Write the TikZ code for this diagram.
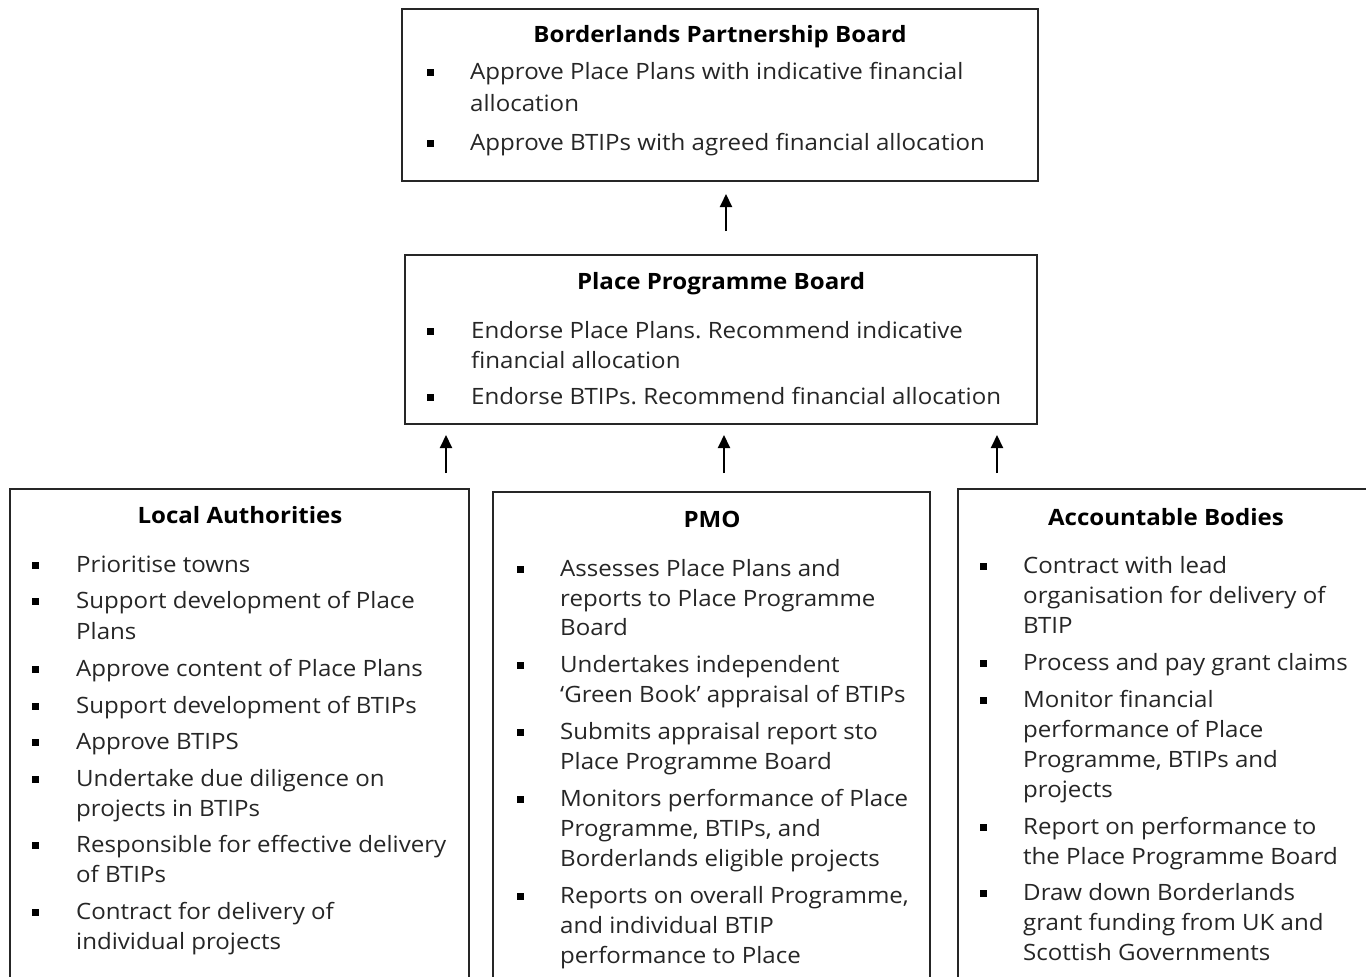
\documentclass[tikz,border=0pt]{standalone}
\usepackage{fontspec}
\setmainfont[FakeStretch=1.07]{Open Sans}
\usetikzlibrary{arrows.meta}
\frenchspacing
\begin{document}
\begin{tikzpicture}[x=1pt,y=-1pt,
  box/.style={draw=black!85, line width=2pt, inner sep=0pt, rectangle},
  ttl/.style={font=\fontsize{22.5}{26}\selectfont\bfseries, text=black, anchor=base, inner sep=0pt},
  ln/.style={font=\fontsize{22.5}{26}\selectfont, text=black!85, anchor=base west, inner sep=0pt},
  bul/.style={fill=black, minimum size=7pt, inner sep=0pt, rectangle},
  arr/.style={line width=2pt, -{Triangle[width=12pt,length=13pt]}}]
\path[use as bounding box] (0,0) rectangle (1366,977);
\clip (0,0) rectangle (1366,977);
\fill[white] (0,0) rectangle (1366,977);

% boxes
\node[box, minimum width=636pt, minimum height=172pt] (bpb) at (720,95) {};
\node[box, minimum width=632pt, minimum height=169pt] (ppb) at (721,339.5) {};
\node[box, minimum width=459pt, minimum height=521pt] (la) at (239.5,749.5) {};
\node[box, minimum width=437pt, minimum height=518pt] (pmo) at (711.5,751) {};
\node[box, minimum width=442pt, minimum height=521pt] (ab) at (1179,749.5) {};

% titles
\node[ttl] (bpb-t) at (720,42) {Borderlands Partnership Board};
\node[ttl] (ppb-t) at (721,289) {Place Programme Board};
\node[ttl] (la-t) at (240,523) {Local Authorities};
\node[ttl] (pmo-t) at (712,527) {PMO};
\node[ttl] (ab-t) at (1166,525) {Accountable Bodies};

% top box
\foreach \yy/\txt [count=\i] in {72/Approve Place Plans with indicative financial, 104/allocation, 143/Approve BTIPs with agreed financial allocation}
  \node[ln] (bpb-\i) at (470,\yy+7) {\txt};
\foreach \yy [count=\i] in {72,143}
  \node[bul] (bpb-b\i) at (430,\yy) {};

% middle box
\foreach \yy/\txt [count=\i] in {331/Endorse Place Plans. Recommend indicative, 361/financial allocation, 397/Endorse BTIPs. Recommend financial allocation}
  \node[ln] (ppb-\i) at (471,\yy+7) {\txt};
\foreach \yy [count=\i] in {331,397}
  \node[bul] (ppb-b\i) at (430,\yy) {};

% local authorities
\foreach \yy/\txt [count=\i] in {565/Prioritise towns, 601/Support development of Place, 632/Plans, 669/Approve content of Place Plans, 706/Support development of BTIPs, 742/Approve BTIPS, 779/Undertake due diligence on, 809/projects in BTIPs, 845/Responsible for effective delivery, 875/of BTIPs, 912/Contract for delivery of, 942/individual projects}
  \node[ln] (la-\i) at (76,\yy+7) {\txt};
\foreach \yy [count=\i] in {565,601,669,706,742,779,845,912}
  \node[bul] (la-b\i) at (35,\yy) {};

% PMO
\foreach \yy/\txt [count=\i] in {569/Assesses Place Plans and, 599/reports to Place Programme, 628/Board, 665/Undertakes independent, 695/‘Green Book’ appraisal of BTIPs, 732/Submits appraisal report sto, 762/Place Programme Board, 799/Monitors performance of Place, 829/{Programme, BTIPs, and}, 859/Borderlands eligible projects, 896/{Reports on overall Programme,}, 926/and individual BTIP, 956/performance to Place}
  \node[ln] (pmo-\i) at (560,\yy+7) {\txt};
\foreach \yy [count=\i] in {569,665,732,799,896}
  \node[bul] (pmo-b\i) at (520,\yy) {};

% accountable bodies
\foreach \yy/\txt [count=\i] in {566/Contract with lead, 596/organisation for delivery of, 626/BTIP, 663/Process and pay grant claims, 700/Monitor financial, 730/performance of Place, 760/{Programme, BTIPs and}, 790/projects, 827/Report on performance to, 857/the Place Programme Board, 893/Draw down Borderlands, 923/grant funding from UK and, 953/Scottish Governments}
  \node[ln] (ab-\i) at (1023,\yy+7) {\txt};
\foreach \yy [count=\i] in {566,663,700,827,893}
  \node[bul] (ab-b\i) at (983,\yy) {};

% arrows
\coordinate (xt) at (726,0);
\coordinate (xl) at (446,0);
\coordinate (xm) at (724,0);
\coordinate (xr) at (997,0);
\draw[arr, shorten <=23pt, shorten >=12pt] (ppb.north -| xt) -- (bpb.south -| xt);
\draw[arr, shorten <=15pt, shorten >=10pt] (la.north -| xl) -- (ppb.south -| xl);
\draw[arr, shorten <=18pt, shorten >=10pt] (pmo.north -| xm) -- (ppb.south -| xm);
\draw[arr, shorten <=15pt, shorten >=10pt] (ab.north -| xr) -- (ppb.south -| xr);
\end{tikzpicture}
\end{document}
